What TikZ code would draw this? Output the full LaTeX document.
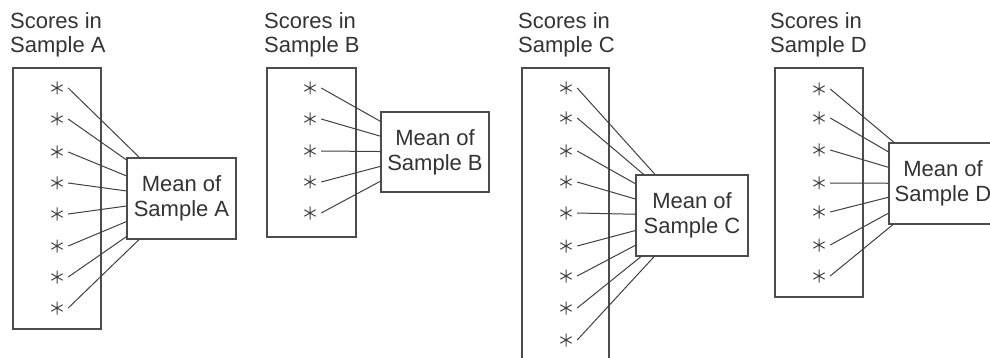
\documentclass[tikz,border=0pt]{standalone}
\usepackage{fontspec}
\setmainfont{Liberation Sans}
\begin{document}
\begin{tikzpicture}[x=1pt,y=-1pt,
  txt/.style={font=\fontsize{22}{24.5}\selectfont, text=black!80, align=left, inner sep=0},
  scorebox/.style={draw=black!70, line width=1.2pt},
  meanbox/.style={draw=black!70, line width=1.2pt, fill=white, align=center, font=\fontsize{22}{25}\selectfont, text=black!80, inner sep=0},
  starnode/.style={minimum width=22, minimum height=15, inner sep=0,
    path picture={\coordinate (pc) at (path picture bounding box.center);
      \draw[black!75, line width=1pt] (pc) +(0,-6.5) -- +(0,6.5)
        (pc) +(30:6.5) -- +(210:6.5)
        (pc) +(150:6.5) -- +(330:6.5);}},
  link/.style={draw=black!75, line width=1pt}]
\useasboundingbox (0,0) rectangle (990,358);
\clip (0,0) rectangle (990,358);

% ---- Sample A ----
\node[txt, anchor=base west] (tA) at (10,53) {Scores in\\Sample A};
\node[scorebox, minimum width=88, minimum height=261, inner sep=0] (bA) at (57,198.5) {};
\node[meanbox, minimum width=109, minimum height=81] (mA) at (181.5,198.5) {Mean of\\Sample A};
\foreach \i/\y in {1/88,2/119,3/152,4/183,5/214,6/246,7/277,8/308}{
  \node[starnode] (a\i) at (57,\y) {};
  \draw[link] (a\i.east) -- (mA);
}

% ---- Sample B ----
\node[txt, anchor=base west] (tB) at (264,53) {Scores in\\Sample B};
\node[scorebox, minimum width=89, minimum height=169, inner sep=0] (bB) at (311.5,152.5) {};
\node[meanbox, minimum width=108, minimum height=80] (mB) at (435,152) {Mean of\\Sample B};
\foreach \i/\y in {1/88,2/119,3/151,4/182,5/213}{
  \node[starnode] (b\i) at (310,\y) {};
  \draw[link] (b\i.east) -- (mB);
}

% ---- Sample C ----
\node[txt, anchor=base west] (tC) at (518,53) {Scores in\\Sample C};
\node[scorebox, minimum width=87, minimum height=312, inner sep=0] (bC) at (565.5,224) {};
\node[meanbox, minimum width=112, minimum height=81] (mC) at (692,215.5) {Mean of\\Sample C};
\foreach \i/\y in {1/88,2/118,3/151,4/182,5/213,6/246,7/276,8/308,9/340}{
  \node[starnode] (c\i) at (566,\y) {};
  \draw[link] (c\i.east) -- (mC);
}

% ---- Sample D ----
\node[txt, anchor=base west] (tD) at (770,53) {Scores in\\Sample D};
\node[scorebox, minimum width=88, minimum height=229, inner sep=0] (bD) at (819,182.5) {};
\node[meanbox, minimum width=108, minimum height=81] (mD) at (943,183.5) {Mean of\\Sample D};
\foreach \i/\y in {1/89,2/118,3/150,4/183,5/212,6/245,7/276}{
  \node[starnode] (d\i) at (819,\y) {};
  \draw[link] (d\i.east) -- (mD);
}
\end{tikzpicture}
\end{document}
